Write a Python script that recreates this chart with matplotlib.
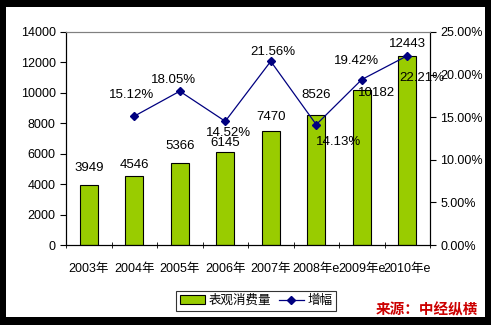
import matplotlib.pyplot as plt
from matplotlib.patches import Rectangle
from matplotlib.ticker import FuncFormatter

plt.rcParams['font.family'] = ['Liberation Sans', 'Noto Sans CJK SC', 'DejaVu Sans']

years = ['2003年', '2004年', '2005年', '2006年', '2007年', '2008年e', '2009年e', '2010年e']
consumption = [3949, 4546, 5366, 6145, 7470, 8526, 10182, 12443]
growth_years = years[1:]
growth = [15.12, 18.05, 14.52, 21.56, 14.13, 19.42, 22.21]

# hand placed label offsets in pixels (dx, dy), like the original
bar_offsets = [(0, 17), (0, 11), (0, 17), (0, 9), (0, 14), (0, 20), (15, -3), (0, 12)]
growth_offsets = [(-3, 21), (-6, 11), (3, -12), (2, 9), (22, -17), (-5, 19), (15, -22)]

fig = plt.figure(figsize=(4.91, 3.25), dpi=100)
fig.patch.set_facecolor('black')
fig.patches.append(Rectangle((6 / 491, 8 / 325), 479 / 491, 310 / 325,
                             transform=fig.transFigure, facecolor='white', edgecolor='none', zorder=-5))

ax = fig.add_axes([66 / 491, 80 / 325, 364 / 491, 213 / 325])
ax.set_zorder(1)
ax.patch.set_alpha(0)
x = list(range(len(years)))
ax.bar(x, consumption, width=0.4, color='#99CC00', edgecolor='black', linewidth=0.8,
       label='表观消费量', zorder=2)
for xi, v, (dx, dy) in zip(x, consumption, bar_offsets):
    ax.annotate(str(v), (xi, v), xytext=(dx, dy), textcoords='offset pixels',
                ha='center', va='center', fontsize=9.5)
ax.set_ylim(0, 14000)
ax.set_xlim(-0.5, len(years) - 0.5)
ax.set_yticks(range(0, 14001, 2000))
ax.set_xticks(x)
ax.set_xticklabels(years, fontsize=9)
ax.tick_params(axis='x', length=0, pad=13)
ax.set_xticks([i + 0.5 for i in range(-1, len(years))], minor=True)
ax.tick_params(axis='x', which='minor', length=4, direction='inout')
ax.tick_params(axis='y', labelsize=9, direction='out', length=4)
ax.spines['top'].set_color('#808080')

ax2 = ax.twinx()
ax2.set_zorder(2)
gx = [years.index(y) for y in growth_years]
ax2.plot(gx, growth, color='#000080', marker='D', markersize=4, linewidth=0.9,
         label='增幅', zorder=3)
for xi, v, (dx, dy) in zip(gx, growth, growth_offsets):
    ax2.annotate(f'{v:.2f}%', (xi, v), xytext=(dx, dy), textcoords='offset pixels',
                 ha='center', va='center', fontsize=9.5)
ax2.set_ylim(0, 25)
ax2.set_yticks(range(0, 26, 5))
ax2.yaxis.set_major_formatter(FuncFormatter(lambda v, p: f'{v:.2f}%'))
ax2.tick_params(axis='y', labelsize=9, direction='out', length=4)
ax2.spines['top'].set_color('#808080')

h1, l1 = ax.get_legend_handles_labels()
h2, l2 = ax2.get_legend_handles_labels()
leg = fig.legend(h1 + h2, l1 + l2, loc='center', bbox_to_anchor=(256 / 491, 1 - 301 / 325),
                 ncol=2, fontsize=9, frameon=True, fancybox=False, handlelength=2.0,
                 columnspacing=0.6, handletextpad=0.3, borderpad=0.3)
leg.get_frame().set_edgecolor('black')
leg.get_frame().set_linewidth(0.8)

fig.text(427 / 491, 1 - 309 / 325, '来源：中经纵横', color='#CC0000', fontsize=10.5,
         fontweight='bold', style='italic', ha='center', va='center',
         family=['Noto Sans CJK SC', 'DejaVu Sans'])

fig.savefig('out.png', dpi=100, facecolor=fig.get_facecolor())
